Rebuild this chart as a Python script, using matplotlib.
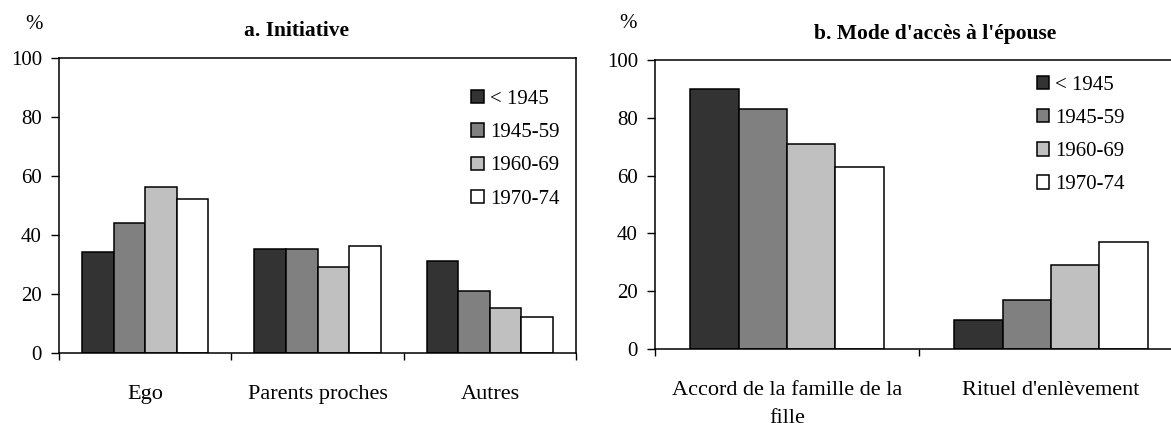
import matplotlib
matplotlib.use("Agg")
import matplotlib.pyplot as plt
import numpy as np

plt.rcParams['font.family'] = ['Liberation Serif', 'DejaVu Serif']

periods = ['< 1945', '1945-59', '1960-69', '1970-74']
colors = ['#333333', '#808080', '#c0c0c0', '#ffffff']

cats_a = ['Ego', 'Parents proches', 'Autres']
vals_a = [[34, 35, 31],   # < 1945
          [44, 35, 21],   # 1945-59
          [56, 29, 15],   # 1960-69
          [52, 36, 12]]   # 1970-74

cats_b = ["Accord de la famille de la\nfille", "Rituel d'enlèvement"]
vals_b = [[90, 10],
          [83, 17],
          [71, 29],
          [63, 37]]

FS = 15
W = 0.183


def draw(ax, cats, vals, title, leg_xy, title_x, pct_xy):
    n = len(cats)
    x = np.arange(n)
    for i, (v, c, lab) in enumerate(zip(vals, colors, periods)):
        ax.bar(x + (i - 1.5) * W, v, W, color=c, edgecolor='black',
               linewidth=1.1, label=lab)
    ax.set_xlim(-0.5, n - 0.5)
    ax.set_ylim(0, 100)
    ax.set_yticks(range(0, 101, 20))
    ax.set_xticks(np.arange(n + 1) - 0.5)
    ax.set_xticklabels([])
    ax.set_xticks(x, minor=True)
    ax.set_xticklabels(cats, minor=True, fontsize=16, linespacing=1.65)
    ax.tick_params(axis='x', which='minor', length=0, pad=23)
    ax.tick_params(axis='x', which='major', direction='out', length=5,
                   width=1)
    ax.tick_params(axis='y', direction='out', length=5.8, width=1,
                   labelsize=FS, pad=6.5)
    for s in ax.spines.values():
        s.set_linewidth(1.1)
    ax.text(pct_xy[0], pct_xy[1], '%', transform=ax.transAxes, fontsize=FS,
            ha='center', va='center')
    ax.text(title_x, 1.09, title, transform=ax.transAxes, fontsize=15.5,
            fontweight='bold', ha='center', va='center')
    ax.legend(loc='upper left', bbox_to_anchor=leg_xy, frameon=False,
              fontsize=FS, handlelength=0.6, handleheight=0.6,
              handletextpad=0.3, labelspacing=0.68, borderpad=0,
              borderaxespad=0)


fig = plt.figure(figsize=(11.71, 4.23), dpi=100)
ax1 = fig.add_axes([0.0504, 0.1662, 0.4415, 0.6974])
ax2 = fig.add_axes([0.5593, 0.1749, 0.4509, 0.6832])

draw(ax1, cats_a, vals_a, 'a. Initiative', (0.797, 0.89), 0.46,
     (-0.048, 1.114))
draw(ax2, cats_b, vals_b, "b. Mode d'accès à l'épouse", (0.723, 0.945),
     0.53, (-0.051, 1.125))

fig.savefig('out.png', dpi=100)
